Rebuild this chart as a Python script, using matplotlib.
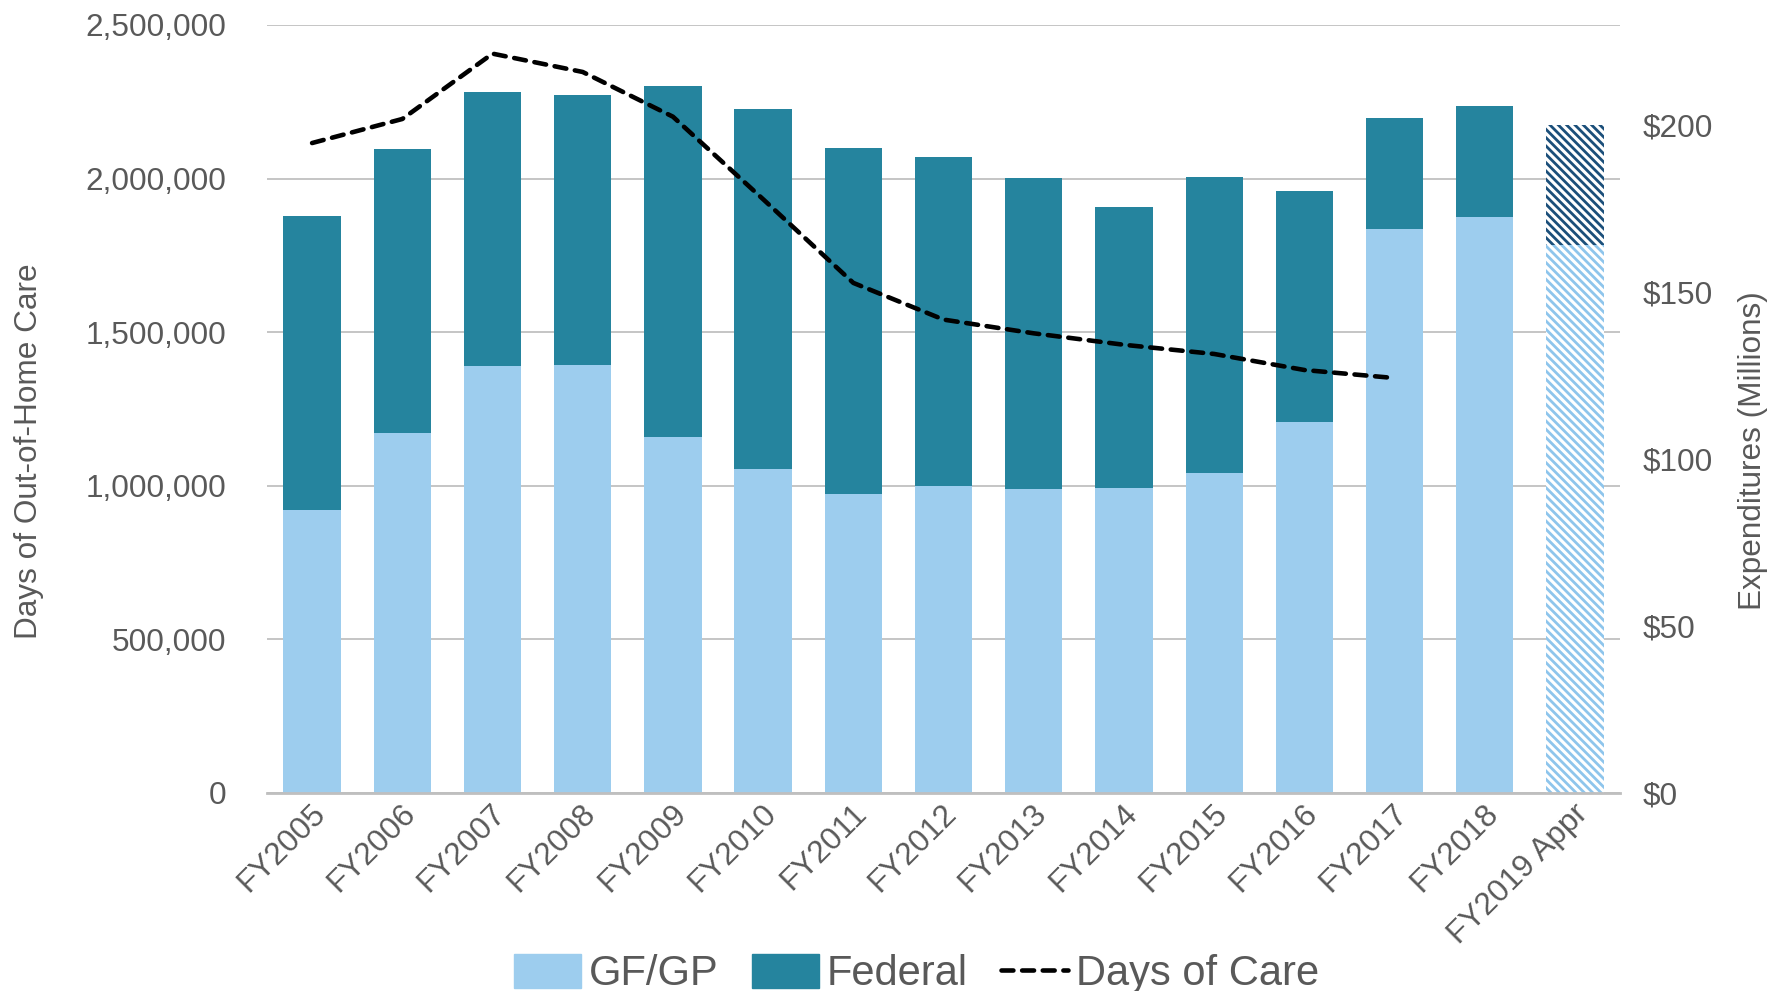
import matplotlib
matplotlib.use("Agg")
import matplotlib.pyplot as plt
import numpy as np
from matplotlib.patches import Patch
from matplotlib.lines import Line2D
from matplotlib.ticker import FuncFormatter, MultipleLocator
import matplotlib.transforms as mtransforms

plt.rcParams['font.family'] = ['Liberation Sans', 'DejaVu Sans']
plt.rcParams['hatch.linewidth'] = 2.0

# data
years = ['FY2005', 'FY2006', 'FY2007', 'FY2008', 'FY2009', 'FY2010', 'FY2011',
         'FY2012', 'FY2013', 'FY2014', 'FY2015', 'FY2016', 'FY2017', 'FY2018',
         'FY2019 Appr']
gfgp = [84.7, 107.7, 128.0, 128.3, 106.7, 97.1, 89.5, 91.9, 90.9, 91.3, 95.7,
        111.1, 168.8, 172.6, 164.0]  # $ millions
federal = [88.2, 85.1, 81.9, 80.6, 105.0, 107.7, 103.6, 98.5, 93.3, 84.3, 88.9,
           69.3, 33.3, 33.2, 36.0]  # $ millions
days_of_care = [2115700, 2194000, 2406700, 2347000, 2201500, 1932800, 1660400,
                1541000, 1496300, 1459000, 1429100, 1376900, 1350700]

c_gf = '#9DCDEE'
c_fed = '#25849E'
c_gf_hatch = '#8EC5EC'
c_fed_hatch = '#1B4F7A'
txt = '#595959'
fs = 22.7

fig = plt.figure(figsize=(17.87, 9.91), dpi=100)
ax = fig.add_axes([0.1494, 0.1998, 0.7572, 0.7750])
ax_bar = ax.twinx()
ax_line = ax.twinx()

x = np.arange(len(years))

# left axis: days, grid
ax.set_xlim(-0.5, len(years) - 0.5)
ax.set_ylim(0, 2500000)
ax.yaxis.set_major_locator(MultipleLocator(500000))
ax.yaxis.set_major_formatter(FuncFormatter(lambda v, p: f'{v:,.0f}'))
ax.grid(axis='y', color='#C0C0C0', lw=1.3)
ax.set_axisbelow(True)
for s in ax.spines.values():
    s.set_visible(False)
ax.tick_params(axis='y', length=0, labelsize=fs, labelcolor=txt, pad=29)
ax.set_xticks(x)
ax.set_xticklabels(years, rotation=45, ha='right', va='top', rotation_mode='anchor')
ax.tick_params(axis='x', length=0, labelsize=fs, labelcolor=txt, pad=4)
offset = mtransforms.ScaledTranslation(-2 / 100, 0, fig.dpi_scale_trans)
for lab in ax.get_xticklabels():
    lab.set_transform(lab.get_transform() + offset)

# right axis: expenditures
bw = 0.635
b1 = ax_bar.bar(x, gfgp, bw, color=c_gf, lw=0)
b2 = ax_bar.bar(x, federal, bw, bottom=gfgp, color=c_fed, lw=0)
for bar, hc in [(b1[-1], c_gf_hatch), (b2[-1], c_fed_hatch)]:
    bar.set_facecolor('white')
    bar.set_edgecolor(hc)
    bar.set_hatch('\\\\\\\\')
ax_bar.set_ylim(0, 230)
ax_bar.yaxis.set_major_locator(MultipleLocator(50))
ax_bar.yaxis.set_major_formatter(FuncFormatter(lambda v, p: f'${v:,.0f}'))
ax_bar.tick_params(axis='y', length=0, labelsize=fs, labelcolor=txt, pad=16)
for k, s in ax_bar.spines.items():
    s.set_visible(k == 'bottom')
ax_bar.spines['bottom'].set_color('#BFBFBF')
ax_bar.spines['bottom'].set_linewidth(2)

# days of care line, above the bars
ax_line.set_ylim(0, 2500000)
ax_line.plot(x[:len(days_of_care)], days_of_care, color='black', lw=3.3,
             dashes=(2.6, 1.9), dash_capstyle='round')
ax_line.axis('off')

fig.text(29 / 1787, 0.545, 'Days of Out-of-Home Care', rotation=90,
         ha='center', va='center', fontsize=fs, color=txt)
fig.text(1753 / 1787, 0.545, 'Expenditures (Millions)', rotation=90,
         ha='center', va='center', fontsize=fs, color=txt)

handles = [Patch(color=c_gf), Patch(color=c_fed),
           Line2D([], [], color='black', lw=3.3, dashes=(2.6, 1.9), dash_capstyle='round')]
fig.legend(handles, ['GF/GP', 'Federal', 'Days of Care'], loc='center',
           bbox_to_anchor=(0.513, 0.017), ncol=3, frameon=False, fontsize=30,
           handlelength=1.6, handleheight=0.9, handletextpad=0.2,
           columnspacing=0.8, labelcolor=txt)

fig.savefig('out.png', dpi=100)
